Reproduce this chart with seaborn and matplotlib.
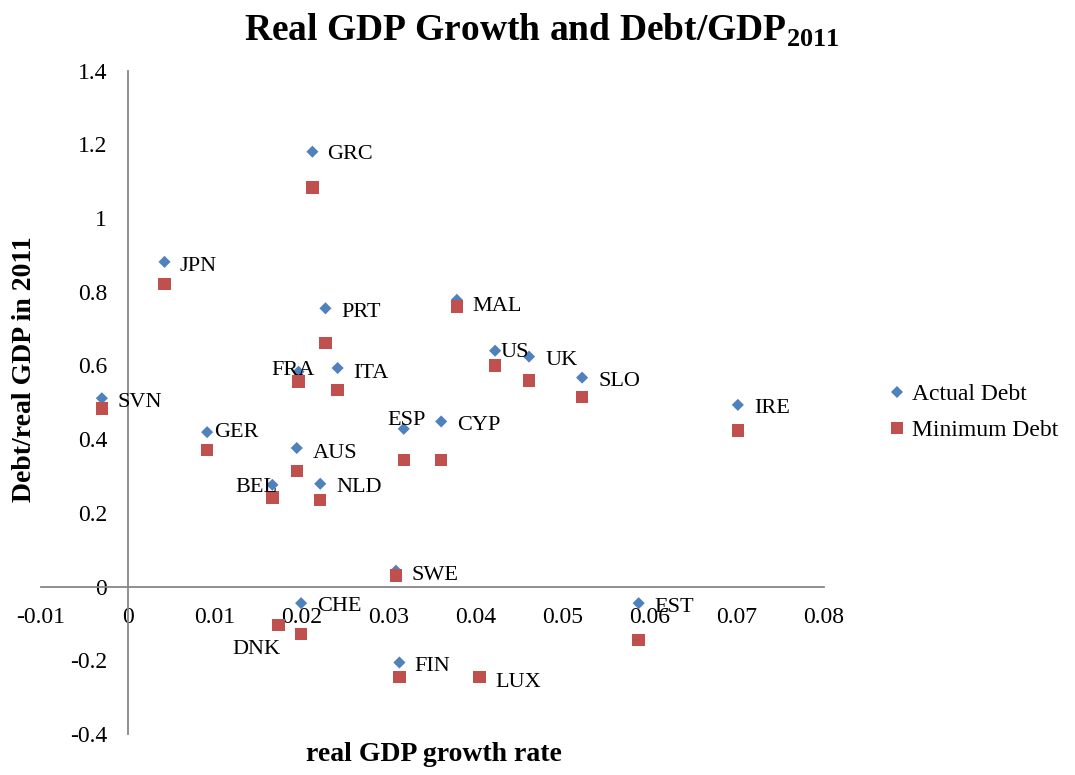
import numpy as np
import pandas as pd
import matplotlib
matplotlib.use('Agg')
import matplotlib.pyplot as plt
import seaborn as sns
from matplotlib.ticker import FixedLocator, FuncFormatter

# ================== data ==================
countries = ['GRC', 'JPN', 'SVN', 'PRT', 'MAL', 'FRA', 'ITA', 'US', 'UK', 'SLO', 'IRE', 'GER',
             'ESP', 'CYP', 'AUS', 'BEL', 'NLD', 'SWE', 'CHE', 'DNK', 'EST', 'FIN', 'LUX']
growth = [0.0212, 0.0042, -0.0030, 0.0227, 0.0378, 0.0196, 0.0241, 0.0422, 0.0461, 0.0522, 0.0701, 0.0091,
          0.0317, 0.0360, 0.0194, 0.0166, 0.0221, 0.0308, 0.0199, 0.0173, 0.0587, 0.0312, 0.0404]
actual_debt = [1.180, 0.881, 0.511, 0.755, 0.778, 0.583, 0.593, 0.640, 0.624, 0.567, 0.493, 0.419,
               0.428, 0.448, 0.376, 0.276, 0.279, 0.043, -0.045, -0.104, -0.045, -0.206, -0.246]
minimum_debt = [1.083, 0.821, 0.483, 0.661, 0.760, 0.556, 0.534, 0.600, 0.559, 0.514, 0.423, 0.371,
                0.344, 0.344, 0.314, 0.242, 0.235, 0.030, -0.128, -0.104, -0.145, -0.245, -0.246]

x_ticks = [-0.01, 0, 0.01, 0.02, 0.03, 0.04, 0.05, 0.06, 0.07, 0.08]
y_ticks = [-0.4, -0.2, 0, 0.2, 0.4, 0.6, 0.8, 1.0, 1.2, 1.4]

# label offsets in pixels (dx, dy) relative to the Actual Debt point
label_offsets = {
    'GRC': (15, 0), 'JPN': (15, -2), 'SVN': (16, -1), 'PRT': (16, -1), 'MAL': (16, -4),
    'FRA': (-27, 4), 'ITA': (16, -2), 'US': (5, 1), 'UK': (16, -1), 'SLO': (16, -1),
    'IRE': (16, -1), 'GER': (7, 3), 'ESP': (-16, 11), 'CYP': (16, -1), 'AUS': (16, -2),
    'BEL': (-37, 0), 'NLD': (16, -1), 'SWE': (16, -2), 'CHE': (16, 0), 'DNK': (-46, -22),
    'EST': (16, -1), 'FIN': (15, -1), 'LUX': (16, -2),
}

df = pd.concat([
    pd.DataFrame({'country': countries, 'growth': growth, 'debt': actual_debt, 'series': 'Actual Debt'}),
    pd.DataFrame({'country': countries, 'growth': growth, 'debt': minimum_debt, 'series': 'Minimum Debt'}),
], ignore_index=True)

# ================== style ==================
sns.set_style('white')
plt.rcParams['font.family'] = ['Liberation Serif', 'DejaVu Serif']
plt.rcParams['axes.unicode_minus'] = False
plt.rcParams['mathtext.fontset'] = 'custom'
plt.rcParams['mathtext.bf'] = 'Liberation Serif:bold'
plt.rcParams['mathtext.rm'] = 'Liberation Serif'
plt.rcParams['text.color'] = 'black'
plt.rcParams['xtick.color'] = 'black'
plt.rcParams['ytick.color'] = 'black'
plt.rcParams['axes.labelcolor'] = 'black'

fig = plt.figure(figsize=(10.75, 7.75), dpi=100)
ax = fig.add_axes([0.0381, 0.0529, 0.7284, 0.856])

palette = {'Actual Debt': '#4F81BD', 'Minimum Debt': '#C0504D'}
markers = {'Actual Debt': 'D', 'Minimum Debt': 's'}
sns.scatterplot(data=df, x='growth', y='debt', hue='series', style='series',
                palette=palette, markers=markers, s=75, linewidth=0, ax=ax)

# diamonds drawn smaller than squares
coll = ax.collections[0]
sizes = np.where(df['series'] == 'Actual Debt', 38, 80)
coll.set_sizes(sizes)

for c, gx, ad in zip(countries, growth, actual_debt):
    dx, dy = label_offsets[c]
    ax.annotate(c, (gx, ad), xytext=(dx, dy - 3), textcoords='offset pixels',
                ha='left', va='center', fontsize=16, color='black')

ax.set_xlim(-0.01, 0.08)
ax.set_ylim(-0.4, 1.4)
ax.xaxis.set_major_locator(FixedLocator(x_ticks))
ax.yaxis.set_major_locator(FixedLocator(y_ticks))
fmt = FuncFormatter(lambda v, p: f"{round(v, 4):g}")
ax.xaxis.set_major_formatter(fmt)
ax.yaxis.set_major_formatter(fmt)
ax.tick_params(axis='both', length=0, labelsize=17, labelcolor='black')
ax.tick_params(axis='x', pad=15)
ax.tick_params(axis='y', pad=15)

for s in ['top', 'right']:
    ax.spines[s].set_visible(False)
ax.spines['left'].set_position(('data', 0))
ax.spines['bottom'].set_position(('data', 0))
for s in ['left', 'bottom']:
    ax.spines[s].set_color('#868686')
    ax.spines[s].set_linewidth(1.3)
ax.set_xlabel('')
ax.set_ylabel('')

fig.text(0.504, 0.985, r'Real GDP Growth and Debt/GDP$_{\mathbf{2011}}$',
         ha='center', va='top', fontsize=27, fontweight='bold')
fig.text(0.023, 0.523, 'Debt/real GDP in 2011', rotation=90, ha='center', va='center',
         fontsize=20, fontweight='bold')
fig.text(0.404, 0.026, 'real GDP growth rate', ha='center', va='center',
         fontsize=20, fontweight='bold')

sns.move_legend(ax, 'center left', bbox_to_anchor=(0.826, 0.468), bbox_transform=fig.transFigure,
                frameon=False, title=None, fontsize=17, handlelength=0.8, handletextpad=0.2,
                borderaxespad=0, borderpad=0, labelspacing=0.6)
leg = ax.get_legend()
for h, ms in zip(leg.legend_handles, [6.3, 9.0]):
    h.set_markersize(ms)
    h.set_markeredgewidth(0)
for t in leg.get_texts():
    t.set_color('black')

fig.savefig('out.png', dpi=100)
